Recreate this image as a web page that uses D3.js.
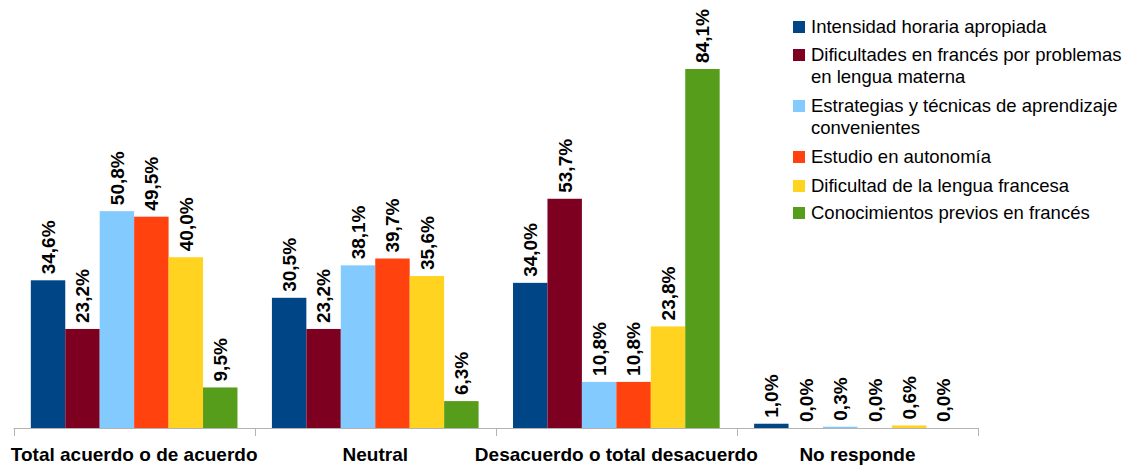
<!DOCTYPE html>
<html>
<head>
<meta charset="utf-8">
<script src="https://cdn.jsdelivr.net/npm/d3@7"></script>
<style>
  html, body { margin: 0; padding: 0; background: #fff; }
  svg { display: block; font-family: "Liberation Sans", Arial, sans-serif; }
</style>
</head>
<body>
<svg id="chart" width="1134" height="466"></svg>
<script>
// Response categories along the x axis
const categories = ["Total acuerdo o de acuerdo", "Neutral", "Desacuerdo o total desacuerdo", "No responde"];

// One series per surveyed aspect (legend entries; arrays hold the line breaks)
const seriesNames = [
  ["Intensidad horaria apropiada"],
  ["Dificultades en francés por problemas", "en lengua materna"],
  ["Estrategias y técnicas de aprendizaje", "convenientes"],
  ["Estudio en autonomía"],
  ["Dificultad de la lengua francesa"],
  ["Conocimientos previos en francés"]
];
const seriesColors = ["#004586", "#7e0021", "#83caff", "#ff420e", "#ffd320", "#579d1c"];

// Percentages per series, in category order
const intensidad    = [34.6, 30.5, 34.0, 1.0];
const dificultades  = [23.2, 23.2, 53.7, 0.0];
const estrategias   = [50.8, 38.1, 10.8, 0.3];
const estudio       = [49.5, 39.7, 10.8, 0.0];
const dificultadLen = [40.0, 35.6, 23.8, 0.6];
const conocimientos = [9.5, 6.3, 84.1, 0.0];
const seriesValues = [intensidad, dificultades, estrategias, estudio, dificultadLen, conocimientos];

const svg = d3.select("#chart");
const baseY = 428;

const x0 = d3.scaleBand().domain(categories).range([13.6, 978]).paddingInner(0).paddingOuter(0);
const x1 = d3.scaleBand().domain(d3.range(seriesNames.length)).range([0, x0.bandwidth()])
  .paddingInner(0).paddingOuter(0.5);
const y = d3.scaleLinear().domain([0, 90]).range([baseY, baseY - 384.2]);

// Bars and rotated value labels
const groups = svg.append("g").selectAll("g")
  .data(categories)
  .join("g")
  .attr("transform", d => `translate(${x0(d)},0)`);

groups.selectAll("rect")
  .data((c, ci) => seriesValues.map((vals, si) => ({ si, v: vals[ci] })))
  .join("rect")
  .attr("x", d => x1(d.si))
  .attr("width", x1.bandwidth())
  .attr("y", d => y(d.v))
  .attr("height", d => baseY - y(d.v))
  .attr("fill", d => seriesColors[d.si]);

const fmt = v => v.toFixed(1).replace(".", ",") + "%";

groups.selectAll("text")
  .data((c, ci) => seriesValues.map((vals, si) => ({ si, v: vals[ci] })))
  .join("text")
  .attr("transform", d => `translate(${x1(d.si) + x1.bandwidth() / 2},${y(d.v) - 6}) rotate(-90)`)
  .attr("dy", "0.36em")
  .attr("text-anchor", "start")
  .attr("font-size", "19px")
  .attr("font-weight", "bold")
  .attr("fill", "#000")
  .text(d => fmt(d.v));

// Category axis with boundary ticks
const axisG = svg.append("g");
axisG.append("line")
  .attr("x1", x0.range()[0]).attr("x2", x0.range()[1])
  .attr("y1", baseY + 0.5).attr("y2", baseY + 0.5)
  .attr("stroke", "#b3b3b3").attr("stroke-width", 1);
const bounds = categories.map(c => x0(c)).concat([x0.range()[1]]);
axisG.selectAll("line.tick")
  .data(bounds)
  .join("line")
  .attr("class", "tick")
  .attr("x1", d => Math.round(d) + 0.5).attr("x2", d => Math.round(d) + 0.5)
  .attr("y1", baseY).attr("y2", baseY + 8)
  .attr("stroke", "#b3b3b3").attr("stroke-width", 1);
axisG.selectAll("text")
  .data(categories)
  .join("text")
  .attr("x", d => x0(d) + x0.bandwidth() / 2)
  .attr("y", 461)
  .attr("text-anchor", "middle")
  .attr("font-size", "19px")
  .attr("font-weight", "bold")
  .attr("fill", "#000")
  .text(d => d);

// Legend
const legend = svg.append("g");
const itemTops = [27, 55, 106, 157, 186, 213];
const lineH = 22;
seriesNames.forEach((lines, i) => {
  const cy = itemTops[i];
  legend.append("rect")
    .attr("x", 793).attr("y", cy - 6)
    .attr("width", 12).attr("height", 12)
    .attr("fill", seriesColors[i]);
  const t = legend.append("text")
    .attr("x", 811).attr("y", cy)
    .attr("font-size", "18.5px")
    .attr("fill", "#000");
  lines.forEach((ln, k) => {
    t.append("tspan").attr("x", 811).attr("y", cy + k * lineH).attr("dy", "0.35em").text(ln);
  });
});
</script>
</body>
</html>
